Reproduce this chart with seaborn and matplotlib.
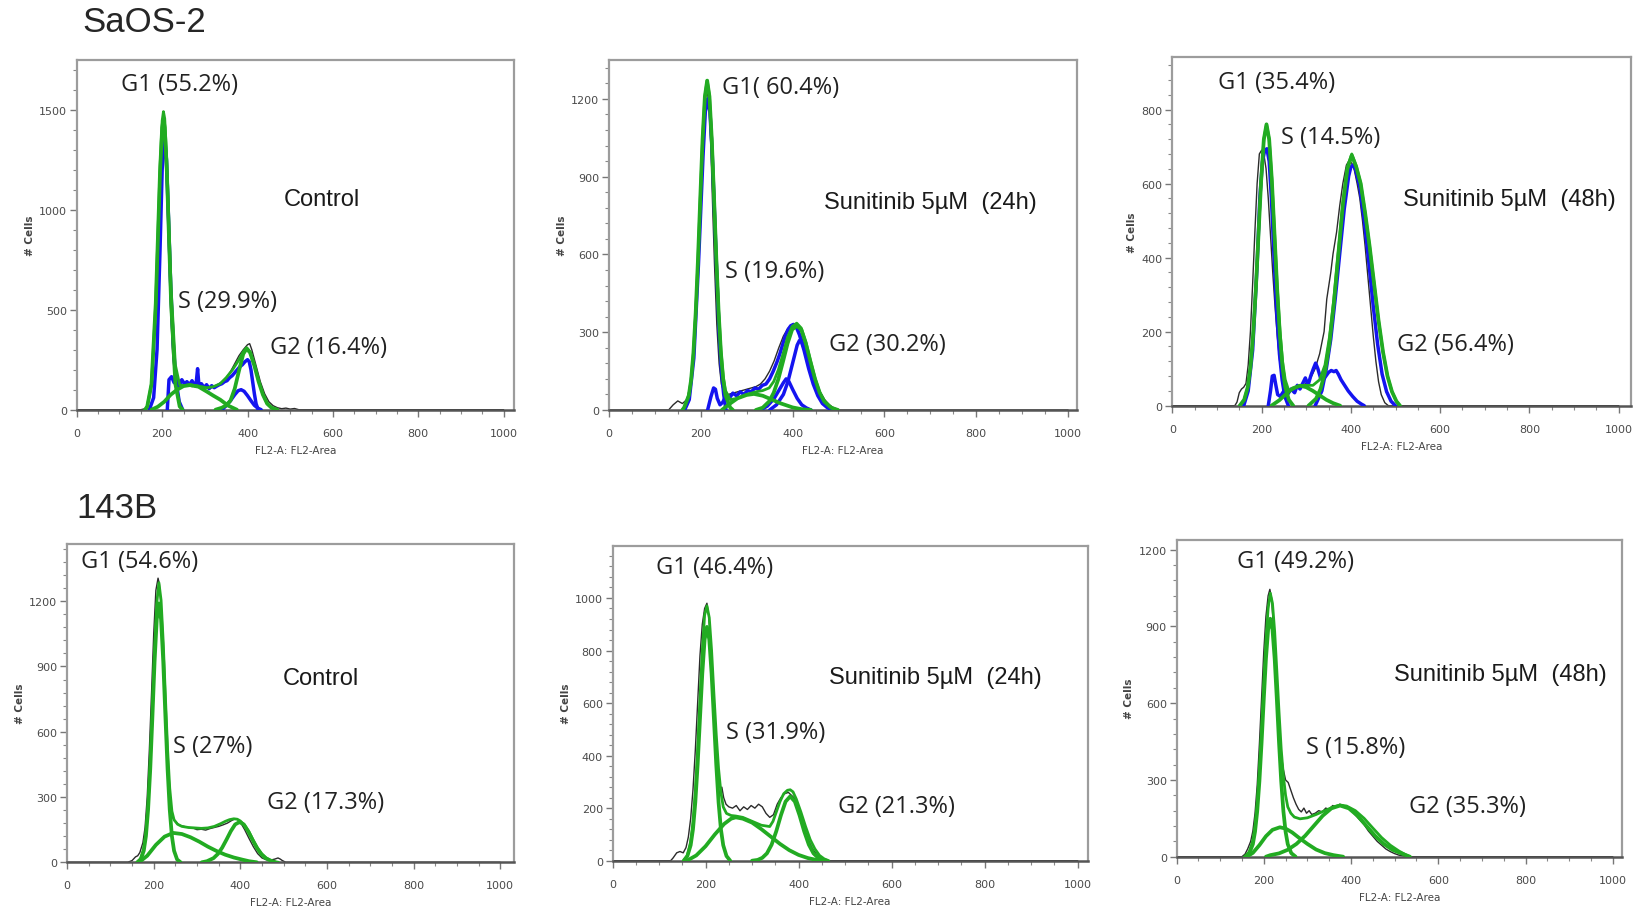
import matplotlib
matplotlib.use("Agg")
import matplotlib.pyplot as plt
from matplotlib.ticker import MultipleLocator
import seaborn as sns

# ---------------- SaOS-2, control ----------------
p1_hist_x = [0, 150, 160, 165, 170, 175, 180, 185, 190, 195, 200, 203, 206, 210, 215, 220, 225, 230, 235, 240,
             250, 260, 270, 280, 290, 300, 310, 320, 330, 340, 350, 360, 370, 380, 390, 400, 405, 410, 420, 430,
             440, 450, 460, 470, 480, 490, 500, 510, 520, 1000]
p1_hist_y = [0, 0, 5, 20, 60, 150, 300, 520, 850, 1200, 1430, 1480, 1400, 1150, 800, 480, 260, 160, 130, 125,
             120, 130, 115, 125, 110, 120, 105, 115, 125, 140, 160, 190, 230, 270, 300, 325, 330, 300, 220, 140,
             80, 40, 20, 10, 5, 8, 3, 6, 0, 0]
p1_g1_x = [160, 165, 175, 185, 190, 195, 200, 203, 206, 211, 216, 221, 231, 241, 248]
p1_g1_y = [0, 16, 128, 531, 858, 1189, 1410, 1450, 1410, 1189, 858, 531, 128, 16, 0]
p1_s_x = [175, 190, 205, 220, 235, 250, 265, 285, 305, 320, 336, 355, 375]
p1_s_y = [0, 15, 40, 75, 100, 118, 123, 115, 90, 70, 50, 20, 0]
p1_g2_x = [325, 340, 350, 360, 370, 380, 390, 398, 406, 416, 426, 436, 446, 456, 470]
p1_g2_y = [0, 10, 22, 45, 105, 195, 279, 305, 285, 220, 140, 75, 30, 10, 0]
p1_fit_x = [160, 165, 175, 185, 190, 195, 200, 203, 206, 211, 216, 221, 231, 241, 250, 265, 285, 305, 320,
            336, 350, 365, 380, 390, 398, 406, 416, 426, 436, 446, 456, 470]
p1_fit_y = [0, 16, 128, 536, 873, 1214, 1445, 1490, 1455, 1244, 923, 606, 223, 124, 120, 125, 118, 110, 115,
            130, 160, 200, 250, 290, 310, 290, 225, 145, 78, 32, 10, 0]
p1_blue1_x = [170, 180, 188, 195, 200, 205, 210, 215, 220, 226, 232, 240, 248]
p1_blue1_y = [0, 60, 300, 800, 1200, 1380, 1250, 950, 620, 330, 150, 40, 0]
p1_blue2_x = [212, 216, 222, 228, 234, 240, 246, 252, 258, 264, 270, 276, 280, 283, 286, 292, 298, 304, 310,
              316, 322, 328, 334, 340, 346, 352, 358, 364, 370, 376, 382, 388, 394, 400, 404, 408, 412, 416,
              420, 425]
p1_blue2_y = [0, 150, 165, 135, 145, 120, 150, 130, 140, 125, 145, 120, 140, 205, 125, 130, 110, 125, 105,
              120, 110, 118, 125, 130, 140, 145, 160, 170, 185, 200, 215, 225, 240, 250, 240, 200, 140, 80,
              30, 0]
p1_blue3_x = [340, 350, 360, 370, 378, 385, 392, 400, 408, 416, 424, 432]
p1_blue3_y = [0, 20, 45, 75, 95, 100, 92, 70, 45, 22, 8, 0]

# ---------------- SaOS-2, sunitinib 24h ----------------
p2_hist_x = [0, 130, 140, 150, 160, 170, 180, 190, 195, 200, 205, 210, 214, 218, 222, 226, 230, 235, 240, 245,
             250, 260, 270, 280, 290, 300, 310, 320, 330, 340, 350, 360, 370, 380, 390, 400, 405, 410, 420, 430,
             440, 450, 460, 470, 480, 490, 500, 1000]
p2_hist_y = [0, 0, 20, 35, 25, 40, 120, 380, 600, 850, 1060, 1200, 1230, 1180, 1020, 780, 560, 330, 180, 100,
             70, 60, 65, 70, 75, 80, 85, 90, 100, 120, 150, 190, 240, 285, 315, 330, 330, 320, 280, 220,
             160, 110, 70, 40, 20, 8, 0, 0]
p2_g1_x = [160, 164, 174, 179, 184, 189, 194, 199, 204, 209, 214, 219, 224, 229, 234, 239, 244, 249, 254, 264, 270]
p2_g1_y = [0, 10, 56, 116, 219, 375, 581, 818, 1045, 1209, 1270, 1209, 1045, 818, 581, 375, 219, 116, 56, 10, 0]
p2_s_x = [246, 260, 280, 300, 316, 335, 355, 375, 400, 420, 440]
p2_s_y = [0, 20, 45, 58, 62, 55, 40, 25, 10, 3, 0]
p2_g2_x = [320, 335, 349, 359, 369, 379, 389, 399, 409, 419, 429, 439, 449, 459, 469, 484, 499]
p2_g2_y = [0, 9, 33, 67, 119, 186, 256, 310, 325, 310, 256, 186, 119, 67, 33, 9, 0]
p2_fit_x = [160, 164, 174, 179, 184, 189, 194, 199, 204, 209, 214, 219, 224, 229, 234, 239, 244, 249, 254, 264,
            280, 300, 320, 335, 349, 359, 369, 379, 389, 399, 409, 419, 429, 439, 449, 459, 469, 484, 499]
p2_fit_y = [0, 10, 56, 116, 219, 375, 581, 818, 1045, 1209, 1272, 1212, 1050, 825, 590, 385, 230, 130, 75, 40,
            45, 60, 70, 75, 85, 110, 155, 215, 280, 322, 335, 316, 262, 190, 122, 68, 34, 9, 0]
p2_blue1_x = [165, 175, 185, 195, 205, 210, 215, 220, 225, 230, 235, 240, 245, 250, 255]
p2_blue1_y = [0, 40, 200, 560, 980, 1150, 1200, 1150, 990, 760, 520, 300, 150, 60, 0]
p2_blue2_x = [215, 222, 228, 232, 236, 242, 248, 255, 262, 270, 278, 286, 294, 302, 310, 318, 326, 334, 342,
              350, 358, 366, 372, 378, 384, 390, 396, 402, 408, 415, 425, 435, 445, 455, 465, 475, 485]
p2_blue2_y = [0, 50, 85, 80, 45, 20, 30, 55, 45, 65, 55, 70, 60, 75, 70, 85, 80, 95, 100,
              120, 150, 185, 215, 250, 285, 310, 325, 330, 320, 290, 230, 160, 100, 55, 25, 10, 0]
p2_blue3_x = [350, 365, 380, 390, 400, 410, 415, 420, 430, 440, 450, 460, 470, 480, 490]
p2_blue3_y = [0, 20, 60, 110, 180, 250, 268, 262, 220, 160, 100, 55, 25, 8, 0]
p2_blue4_x = [330, 345, 360, 370, 380, 386, 392, 400, 410, 420, 430, 440]
p2_blue4_y = [0, 15, 45, 75, 105, 120, 110, 80, 45, 20, 8, 0]

# ---------------- SaOS-2, sunitinib 48h ----------------
p3_hist_x = [0, 140, 145, 150, 155, 160, 165, 170, 175, 180, 185, 190, 195, 200, 205, 210, 215, 220, 225, 230,
             235, 240, 245, 250, 260, 270, 280, 290, 300, 310, 320, 330, 340, 346, 355, 360, 368, 375, 382, 390,
             396, 402, 408, 414, 420, 426, 432, 438, 444, 450, 456, 462, 468, 476, 484, 1000]
p3_hist_y = [0, 0, 10, 35, 45, 50, 60, 110, 200, 330, 470, 600, 680, 690, 680, 640, 560, 460, 360, 270,
             190, 125, 80, 55, 42, 45, 50, 55, 60, 75, 100, 140, 200, 288, 360, 410, 469, 540, 600, 650,
             662, 655, 635, 600, 560, 500, 430, 350, 270, 190, 120, 65, 30, 8, 0, 0]
p3_g1_x = [151, 161, 169, 175, 181, 187, 193, 199, 205, 211, 217, 223, 229, 235, 241, 247, 253, 261, 271]
p3_g1_y = [0, 16, 50, 103, 190, 312, 461, 608, 719, 760, 719, 608, 461, 312, 190, 103, 50, 16, 0]
p3_s_x = [222, 240, 255, 270, 286, 300, 315, 330, 345, 360, 376]
p3_s_y = [0, 15, 32, 47, 54, 50, 40, 28, 16, 7, 0]
p3_g2_x = [305, 322, 332, 342, 352, 362, 372, 382, 392, 402, 412, 422, 432, 442, 452, 462, 472, 482, 492, 502, 510]
p3_g2_y = [0, 19, 45, 91, 168, 278, 410, 541, 639, 676, 645, 600, 520, 430, 330, 230, 145, 80, 38, 12, 0]
p3_fit_x = [151, 161, 169, 175, 181, 187, 193, 199, 205, 211, 217, 223, 229, 235, 241, 247, 253, 261, 271, 286,
            300, 315, 330, 342, 352, 362, 372, 382, 392, 402, 412, 422, 432, 442, 452, 462, 472, 482, 492, 502, 510]
p3_fit_y = [0, 16, 50, 103, 190, 312, 461, 608, 719, 760, 720, 612, 468, 322, 205, 120, 70, 40, 45, 55,
            55, 55, 70, 110, 185, 290, 418, 548, 645, 680, 648, 600, 520, 430, 330, 230, 145, 80, 38, 12, 0]
p3_blue1_x = [160, 170, 180, 190, 196, 202, 207, 212, 217, 222, 228, 234, 240, 246, 252, 260]
p3_blue1_y = [0, 40, 150, 380, 560, 660, 690, 694, 660, 560, 400, 250, 140, 70, 25, 0]
p3_blue2_x = [215, 220, 224, 228, 232, 236, 242, 250, 258, 266, 274, 280, 286, 292, 298, 304, 310, 316, 321,
              326, 332, 338, 344, 350, 356, 362, 367, 372, 378, 386, 394, 404, 414, 424, 430]
p3_blue2_y = [0, 40, 80, 82, 55, 30, 25, 40, 30, 45, 35, 55, 45, 60, 75, 55, 80, 100, 115,
              100, 75, 70, 80, 90, 95, 92, 95, 85, 70, 55, 40, 25, 12, 4, 0]
p3_blue3_x = [320, 335, 345, 355, 365, 375, 385, 395, 400, 405, 410, 420, 430, 440, 450, 460, 470, 480, 490, 500]
p3_blue3_y = [0, 40, 100, 180, 290, 410, 530, 620, 645, 650, 640, 590, 500, 390, 270, 165, 85, 38, 12, 0]

# ---------------- 143B, control ----------------
p4_hist_x = [0, 140, 150, 158, 163, 168, 175, 180, 185, 190, 195, 200, 205, 210, 213, 216, 220, 225, 230, 235,
             240, 245, 250, 255, 260, 270, 280, 290, 300, 310, 320, 330, 340, 350, 360, 370, 380, 388, 395, 400,
             410, 420, 430, 440, 450, 460, 470, 480, 487, 492, 497, 505, 1000]
p4_hist_y = [0, 0, 8, 25, 30, 45, 90, 160, 300, 520, 780, 1050, 1250, 1306, 1280, 1200, 1010, 760, 520, 330,
             230, 200, 190, 178, 170, 165, 160, 158, 150, 152, 148, 155, 160, 165, 172, 180, 192, 200, 195, 185,
             150, 110, 72, 40, 20, 12, 10, 15, 20, 15, 8, 0, 0]
p4_g1_x = [162, 170, 177, 182, 187, 192, 197, 202, 207, 212, 217, 222, 227, 232, 237, 242, 247, 254, 262]
p4_g1_y = [0, 13, 53, 120, 242, 429, 670, 923, 1116, 1190, 1116, 923, 670, 429, 242, 120, 53, 13, 0]
p4_s_x = [166, 185, 205, 225, 245, 265, 285, 305, 325, 345, 365, 385, 405, 420, 438]
p4_s_y = [0, 30, 80, 118, 135, 130, 115, 95, 72, 52, 35, 22, 12, 5, 0]
p4_g2_x = [311, 323, 338, 348, 358, 368, 378, 388, 398, 408, 418, 428, 438, 448, 458, 473, 480]
p4_g2_y = [0, 5, 19, 38, 67, 104, 143, 174, 185, 174, 143, 104, 67, 38, 19, 5, 0]
p4_fit_x = [162, 170, 177, 182, 187, 192, 197, 202, 207, 212, 217, 222, 227, 232, 237, 242, 247, 255, 265, 280,
            295, 310, 325, 340, 355, 365, 375, 385, 393, 400, 410, 420, 430, 440, 450, 460, 470, 480, 488]
p4_fit_y = [0, 18, 62, 135, 265, 460, 710, 975, 1190, 1285, 1205, 1010, 760, 520, 340, 235, 195, 175, 165, 160,
            158, 156, 158, 165, 178, 188, 196, 200, 198, 190, 170, 140, 100, 65, 38, 20, 8, 3, 0]

# ---------------- 143B, sunitinib 24h ----------------
p5_hist_x = [0, 125, 130, 138, 145, 152, 158, 163, 168, 173, 178, 183, 188, 193, 198, 203, 207, 211, 215, 219,
             223, 227, 231, 235, 239, 244, 250, 258, 266, 274, 282, 290, 298, 306, 314, 322, 330, 338, 346, 354,
             362, 370, 378, 384, 390, 398, 406, 414, 422, 430, 438, 446, 455, 465, 1000]
p5_hist_y = [0, 0, 10, 30, 35, 30, 50, 90, 160, 270, 420, 600, 780, 900, 960, 980, 930, 820, 660, 500,
             360, 280, 250, 280, 240, 215, 205, 200, 210, 190, 205, 195, 210, 200, 215, 205, 180, 165, 175, 215,
             240, 255, 260, 250, 240, 205, 160, 115, 75, 45, 25, 12, 4, 0, 0]
p5_g1_x = [153, 161, 168, 173, 178, 183, 188, 193, 198, 203, 208, 213, 218, 223, 228, 233, 238, 245, 253]
p5_g1_y = [0, 18, 59, 120, 222, 366, 540, 712, 842, 890, 842, 712, 540, 366, 222, 120, 59, 18, 0]
p5_s_x = [160, 180, 200, 220, 240, 255, 265, 280, 300, 320, 340, 360, 380, 400, 420, 446]
p5_s_y = [0, 20, 55, 100, 140, 160, 165, 160, 145, 120, 92, 64, 40, 22, 10, 0]
p5_g2_x = [300, 312, 322, 332, 342, 352, 362, 372, 382, 392, 402, 412, 422, 432, 442, 452, 460]
p5_g2_y = [0, 3, 11, 28, 61, 112, 173, 225, 245, 225, 173, 112, 61, 28, 11, 3, 0]
p5_fit_x = [153, 161, 168, 173, 178, 183, 188, 193, 198, 203, 208, 213, 218, 223, 228, 233, 238, 245, 255, 265,
            280, 300, 320, 338, 345, 352, 360, 368, 376, 382, 388, 395, 405, 415, 425, 435, 445, 455, 465]
p5_fit_y = [0, 20, 72, 145, 260, 420, 615, 800, 935, 970, 925, 800, 635, 480, 350, 260, 205, 180, 172, 170,
            165, 150, 135, 130, 150, 185, 225, 255, 268, 270, 262, 235, 185, 130, 80, 45, 20, 7, 0]

# ---------------- 143B, sunitinib 48h ----------------
p6_hist_x = [0, 150, 157, 163, 170, 175, 180, 185, 190, 195, 200, 205, 210, 214, 218, 222, 226, 230, 235, 240,
             245, 250, 256, 262, 268, 274, 280, 286, 292, 298, 304, 310, 318, 326, 334, 342, 350, 358, 366, 374,
             382, 390, 398, 406, 414, 422, 430, 440, 450, 460, 470, 480, 490, 500, 510, 520, 530, 1000]
p6_hist_y = [0, 0, 10, 30, 60, 100, 170, 280, 440, 620, 800, 940, 1020, 1045, 1010, 900, 750, 600, 480, 400,
             340, 300, 290, 260, 230, 205, 185, 175, 190, 170, 180, 165, 170, 180, 175, 190, 185, 200, 195, 205,
             200, 195, 185, 170, 155, 140, 125, 100, 80, 60, 45, 30, 20, 12, 6, 3, 0, 0]
p6_g1_x = [157, 167, 175, 180, 185, 190, 195, 200, 205, 210, 215, 220, 225, 230, 235, 240, 245, 250, 255, 263, 273]
p6_g1_y = [0, 14, 49, 98, 178, 295, 446, 615, 774, 888, 930, 888, 774, 615, 446, 295, 178, 98, 49, 14, 0]
p6_s_x = [161, 175, 190, 205, 220, 237, 250, 265, 280, 300, 320, 340, 360, 382]
p6_s_y = [0, 15, 45, 80, 105, 115, 110, 95, 75, 50, 28, 14, 6, 0]
p6_g2_x = [205, 215, 235, 255, 275, 295, 315, 335, 355, 375, 395, 415, 435, 455, 475, 495, 515, 535]
p6_g2_y = [0, 6, 13, 27, 50, 82, 121, 160, 189, 200, 189, 160, 121, 82, 50, 27, 13, 0]
p6_fit_x = [157, 167, 175, 180, 185, 190, 195, 200, 205, 210, 215, 220, 225, 230, 235, 240, 245, 250, 255, 262,
            270, 283, 300, 320, 340, 360, 375, 390, 410, 430, 450, 470, 490, 510, 525, 535]
p6_fit_y = [0, 20, 62, 120, 210, 340, 500, 680, 845, 970, 1030, 990, 880, 725, 565, 420, 315, 240, 195, 170,
            155, 148, 152, 165, 180, 195, 202, 198, 180, 150, 112, 75, 45, 22, 8, 0]

# ---------------- text ----------------
row_titles = ["SaOS-2", "143B"]
conditions = ["Control", "Sunitinib 5µM  (24h)", "Sunitinib 5µM  (48h)"] * 2
g1_labels = ["G1 (55.2%)", "G1( 60.4%)", "G1 (35.4%)", "G1 (54.6%)", "G1 (46.4%)", "G1 (49.2%)"]
s_labels = ["S (29.9%)", "S (19.6%)", "S (14.5%)", "S (27%)", "S (31.9%)", "S (15.8%)"]
g2_labels = ["G2 (16.4%)", "G2 (30.2%)", "G2 (56.4%)", "G2 (17.3%)", "G2 (21.3%)", "G2 (35.3%)"]

# ---------------- layout (pixels in a 1645x912 canvas) ----------------
W, H = 1645, 912
boxes = [(76.8, 61, 514.3, 410.7), (608.9, 60.7, 1076.8, 411), (1172.3, 58.3, 1630.8, 406.7),
         (67.1, 545, 513.6, 863.3), (612.5, 546.7, 1087.5, 861.7), (1176.5, 540.7, 1622.4, 857.7)]
xmax = [1025, 1019, 1027, 1031, 1021, 1022]
ymax = [1748, 1351, 941, 1463, 1199, 1239]
ymajor = [500, 300, 200, 300, 200, 300]
# label anchor positions in data units (left edge, vertical centre)
g1_pos = [(104, 1628), (247, 1245), (103, 874), (33, 1387), (94, 1117), (139, 1157)]
s_pos = [(238, 545), (253, 537), (243, 725), (245, 536), (245, 489), (296, 428)]
g2_pos = [(452, 312), (479, 255), (504, 167), (462, 276), (485, 209), (532, 199)]
cond_pos = [(485, 1053), (469, 801), (516, 559), (497, 846), (466, 698), (498, 714)]

panels = [
    dict(hist=(p1_hist_x, p1_hist_y), g1=(p1_g1_x, p1_g1_y), s=(p1_s_x, p1_s_y), g2=(p1_g2_x, p1_g2_y),
         fit=(p1_fit_x, p1_fit_y),
         blue=[(p1_blue1_x, p1_blue1_y), (p1_blue2_x, p1_blue2_y), (p1_blue3_x, p1_blue3_y)]),
    dict(hist=(p2_hist_x, p2_hist_y), g1=(p2_g1_x, p2_g1_y), s=(p2_s_x, p2_s_y), g2=(p2_g2_x, p2_g2_y),
         fit=(p2_fit_x, p2_fit_y),
         blue=[(p2_blue1_x, p2_blue1_y), (p2_blue2_x, p2_blue2_y), (p2_blue3_x, p2_blue3_y),
               (p2_blue4_x, p2_blue4_y)]),
    dict(hist=(p3_hist_x, p3_hist_y), g1=(p3_g1_x, p3_g1_y), s=(p3_s_x, p3_s_y), g2=(p3_g2_x, p3_g2_y),
         fit=(p3_fit_x, p3_fit_y),
         blue=[(p3_blue1_x, p3_blue1_y), (p3_blue2_x, p3_blue2_y), (p3_blue3_x, p3_blue3_y)]),
    dict(hist=(p4_hist_x, p4_hist_y), g1=(p4_g1_x, p4_g1_y), s=(p4_s_x, p4_s_y), g2=(p4_g2_x, p4_g2_y),
         fit=(p4_fit_x, p4_fit_y), blue=[]),
    dict(hist=(p5_hist_x, p5_hist_y), g1=(p5_g1_x, p5_g1_y), s=(p5_s_x, p5_s_y), g2=(p5_g2_x, p5_g2_y),
         fit=(p5_fit_x, p5_fit_y), blue=[]),
    dict(hist=(p6_hist_x, p6_hist_y), g1=(p6_g1_x, p6_g1_y), s=(p6_s_x, p6_s_y), g2=(p6_g2_x, p6_g2_y),
         fit=(p6_fit_x, p6_fit_y), blue=[]),
]

sns.set_style("white")
plt.rcParams['font.family'] = ['DejaVu Sans']

GREEN = "#22ab22"
BLUE = "#1414f0"
BLACK = "#2b2b2b"

fig = plt.figure(figsize=(W / 100, H / 100), dpi=100)

for i, p in enumerate(panels):
    l, t, r, b = boxes[i]
    ax = fig.add_axes([l / W, 1 - b / H, (r - l) / W, (b - t) / H])

    hx, hy = p["hist"]
    sns.lineplot(x=hx, y=hy, ax=ax, color=BLACK, linewidth=1.0, sort=False, estimator=None, zorder=2)
    for bx, by in p["blue"]:
        sns.lineplot(x=bx, y=by, ax=ax, color=BLUE, linewidth=2.5, sort=False, estimator=None, zorder=3)
    fx, fy = p["fit"]
    sns.lineplot(x=fx, y=fy, ax=ax, color=GREEN, linewidth=2.0, sort=False, estimator=None, zorder=4)
    for key in ["g1", "s", "g2"]:
        cx, cy = p[key]
        sns.lineplot(x=cx, y=cy, ax=ax, color=GREEN, linewidth=2.7, sort=False, estimator=None, zorder=5)

    ax.set_xlim(0, xmax[i])
    ax.set_ylim(0, ymax[i])
    ax.xaxis.set_major_locator(MultipleLocator(200))
    ax.xaxis.set_minor_locator(MultipleLocator(50))
    ax.yaxis.set_major_locator(MultipleLocator(ymajor[i]))
    ax.yaxis.set_minor_locator(MultipleLocator(ymajor[i] / 5))
    ax.tick_params(which="major", direction="out", length=5, width=1, color="#777777",
                   labelsize=8, labelcolor="#4a4a4a", bottom=True, left=True)
    ax.tick_params(axis="x", which="major", pad=8)
    ax.tick_params(axis="y", which="major", pad=2)
    ax.tick_params(which="minor", direction="out", length=3, width=0.8, color="#888888",
                   bottom=True, left=True)
    for side in ["top", "right", "left"]:
        ax.spines[side].set_color("#9c9c9c")
        ax.spines[side].set_linewidth(1.6)
    ax.spines["bottom"].set_color("#555555")
    ax.spines["bottom"].set_linewidth(1.8)

    ax.set_xlabel("FL2-A: FL2-Area", fontsize=7.5, color="#444444", labelpad=5)
    ax.set_ylabel("# Cells", fontsize=7.5, color="#444444", labelpad=3, fontweight="bold")

    lab_kw = dict(fontfamily="Open Sans", fontsize=17, color="#222222", va="center", ha="left", zorder=6)
    ax.text(*g1_pos[i], g1_labels[i], **lab_kw)
    ax.text(*s_pos[i], s_labels[i], **lab_kw)
    ax.text(*g2_pos[i], g2_labels[i], **lab_kw)
    ax.text(*cond_pos[i], conditions[i], fontfamily="Liberation Sans", fontsize=17,
            color="#1a1a1a", va="center", ha="left", zorder=6)

fig.text(82 / W, 1 - 23 / H, row_titles[0], fontfamily="Liberation Sans", fontsize=25, va="center", ha="left")
fig.text(76 / W, 1 - 509 / H, row_titles[1], fontfamily="Liberation Sans", fontsize=25, va="center", ha="left")

fig.savefig("out.png", dpi=100, facecolor="white")
